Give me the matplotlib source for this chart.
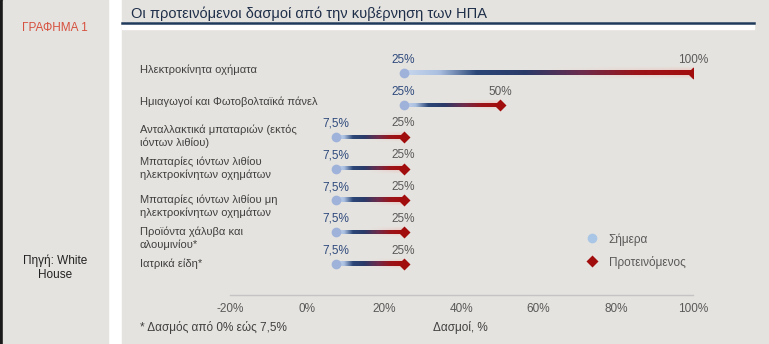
import numpy as np
import matplotlib
matplotlib.use("Agg")
import matplotlib.pyplot as plt
from matplotlib.colors import LinearSegmentedColormap
from matplotlib.lines import Line2D
from matplotlib.patches import Rectangle
import matplotlib.transforms as mtransforms

plt.rcParams['font.family'] = ['Liberation Sans', 'DejaVu Sans']

# data
categories = [
    "Ηλεκτροκίνητα οχήματα",
    "Ημιαγωγοί και Φωτοβολταϊκά πάνελ",
    "Ανταλλακτικά μπαταριών (εκτός\nιόντων λιθίου)",
    "Μπαταρίες ιόντων λιθίου\nηλεκτροκίνητων οχημάτων",
    "Μπαταρίες ιόντων λιθίου μη\nηλεκτροκίνητων οχημάτων",
    "Προϊόντα χάλυβα και\nαλουμινίου*",
    "Ιατρικά είδη*",
]
today = [25, 25, 7.5, 7.5, 7.5, 7.5, 7.5]
proposed = [100, 50, 25, 25, 25, 25, 25]
xticks = [-20, 0, 20, 40, 60, 80, 100]

title = "Οι προτεινόμενοι δασμοί από την κυβέρνηση των ΗΠΑ"
footnote = "* Δασμός από 0% εώς 7,5%"
xlabel = "Δασμοί, %"
legend_labels = ["Σήμερα", "Προτεινόμενος"]

# layout tweaks: vertical shift of category labels (pixels, down = positive)
label_shift_px = [-3, -3, 0, 0, 6, 6, 0]

bg = "#e5e3df"
light_blue = "#9fb2d9"
dark_red = "#a10d0d"
blue_text = "#2e4a7d"
grey_text = "#595959"

W, H = 769, 344
fig = plt.figure(figsize=(W / 100, H / 100), dpi=100)
fig.patch.set_facecolor("white")


def fx(px):
    return px / W


def fy(py):
    return 1 - py / H


# panels
fig.add_artist(Rectangle((0, 0), fx(3), 1, transform=fig.transFigure, color="#1a1a1a", zorder=0))
fig.add_artist(Rectangle((fx(3), 0), fx(105), 1, transform=fig.transFigure, color=bg, zorder=0))
fig.add_artist(Rectangle((fx(122), 0), fx(W - 122), 1, transform=fig.transFigure, color=bg, zorder=0))
fig.add_artist(Rectangle((fx(122), fy(29)), fx(754 - 122), 6 / H, transform=fig.transFigure,
                         color="white", zorder=1))
fig.add_artist(Line2D([fx(122), fx(754)], [fy(22.5), fy(22.5)], transform=fig.transFigure,
                      color="#1f3a5a", lw=1.8, zorder=2))

fig.text(fx(131), fy(14), title, fontsize=10.5, color="#1f2f4a", va="center", ha="left")
fig.text(fx(55), fy(28), "ΓΡΑΦΗΜΑ 1", fontsize=8.5, color="#d6503e", ha="center", va="center")
fig.text(fx(55), fy(268), "Πηγή: White\nHouse", fontsize=8.5, color="#222222", ha="center", va="center",
         linespacing=1.2)

# axes
ax_left, ax_right, ax_top, ax_bottom = 230, 693, 45, 295
ax = fig.add_axes([fx(ax_left), fy(ax_bottom), fx(ax_right - ax_left), (ax_bottom - ax_top) / H])
ax.set_facecolor("none")
row0, row6 = 73, 264
unit = (row6 - row0) / 6

cmap = LinearSegmentedColormap.from_list("grad", [
    (0.0, "#c8d7ee"), (0.12, "#aabfe0"), (0.25, "#2a4677"), (0.42, "#2b3a68"),
    (0.62, "#6e2b4b"), (0.8, "#9a1419"), (1.0, "#a40d0d")])

n = 256
for i, (a, b) in enumerate(zip(today, proposed)):
    lw = 5 if i == 0 else 4
    h = lw / 2 / unit
    grad = cmap(np.linspace(0, 1, n))[np.newaxis, :, :]
    # soft red glow around the red end of the bar
    rows = 15
    glow = np.zeros((rows, n, 4))
    glow[..., :3] = [0.95, 0.55, 0.52]
    along = np.clip((np.linspace(0, 1, n) - 0.5) / 0.5, 0, 1)
    across = 1 - np.abs(np.linspace(-1, 1, rows))
    glow[..., 3] = np.outer(across, along) * 0.45
    gh = h * 2.6
    ax.imshow(glow, extent=[a, b, i + gh, i - gh], aspect="auto", interpolation="bilinear", zorder=2)
    ax.imshow(grad, extent=[a, b, i + h, i - h], aspect="auto", interpolation="bilinear", zorder=3)
    ax.plot(a, i, "o", ms=7, color=light_blue, mec="none", zorder=4)
    ax.plot(b, i, "D", ms=6, color=dark_red, mec="none", zorder=4)
    ax.annotate(f"{a:g}%".replace(".", ","), (a, i), xytext=(0, 9.5), textcoords="offset points",
                ha="center", va="center", fontsize=8.5, color=blue_text)
    ax.annotate(f"{b:g}%", (b, i), xytext=(0, 9.5), textcoords="offset points",
                ha="center", va="center", fontsize=8.5, color=grey_text)

ax.set_xlim(-20, 100)
ax.set_ylim(6 + (ax_bottom - row6) / unit, -(row0 - ax_top) / unit)

# category labels
trans = mtransforms.blended_transform_factory(fig.transFigure, ax.transData)
for i, cat in enumerate(categories):
    ax.text(fx(140), i + label_shift_px[i] / unit, cat, transform=trans, ha="left", va="center",
            fontsize=8, color="#404040", linespacing=1.3)

ax.set_xticks(xticks)
ax.set_xticklabels([f"{t}%" for t in xticks])
ax.set_yticks([])
ax.tick_params(axis="x", length=0, pad=6, labelsize=8.5, labelcolor=grey_text)
for s in ["top", "right", "left"]:
    ax.spines[s].set_visible(False)
ax.spines["bottom"].set_color("#c4c4c4")
ax.spines["bottom"].set_linewidth(1)

# legend
handles = [
    Line2D([], [], ls="none", marker="o", ms=7, color="#a9c6e6", mec="none"),
    Line2D([], [], ls="none", marker="D", ms=6, color=dark_red, mec="none"),
]
fig.legend(handles, legend_labels, loc="upper left", bbox_to_anchor=(fx(585), fy(233)),
           frameon=False, fontsize=8.5, labelcolor=grey_text, handlelength=1.2,
           handletextpad=0.8, labelspacing=0.85, borderpad=0, borderaxespad=0)

fig.text(fx(140), fy(327), footnote, fontsize=8.5, color="#404040", ha="left", va="center")
fig.text(fx(460), fy(327), xlabel, fontsize=8.5, color="#404040", ha="center", va="center")

fig.savefig("out.png", dpi=100, facecolor=fig.get_facecolor())
